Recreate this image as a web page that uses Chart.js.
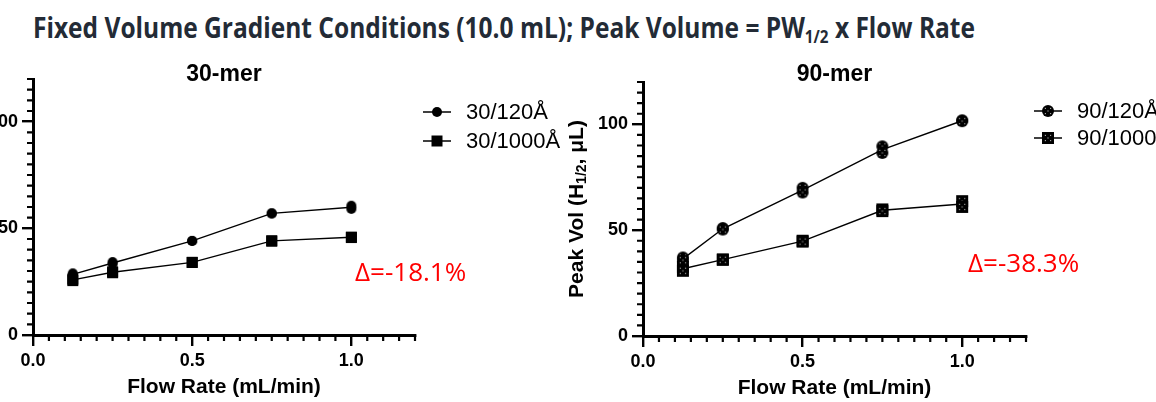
<!DOCTYPE html>
<html>
<head>
<meta charset="utf-8">
<script src="https://cdn.jsdelivr.net/npm/chart.js@4.4.1/dist/chart.umd.min.js"></script>
<style>
  html, body { margin: 0; padding: 0; background: #fff; }
  body { width: 1156px; height: 402px; overflow: hidden; position: relative; }
  #title {
    position: absolute; left: 33px; top: 13px; white-space: nowrap;
    font: 700 28px 'Open Sans', sans-serif; line-height: 1; color: #232b36;
    transform-origin: left top;
  }
  #title sub { font-size: 0.62em; line-height: 0; vertical-align: -0.28em; }
  .delta { position: absolute; font: 400 26px 'Open Sans', sans-serif; line-height: 1; color: #f00; white-space: nowrap; }
  canvas { position: absolute; }
</style>
</head>
<body>
<div id="title">Fixed Volume Gradient Conditions (10.0 mL); Peak Volume = PW<sub>1/2</sub> x Flow Rate</div>
<canvas id="chart30" width="617" height="345" style="left:-57px;top:60px"></canvas>
<canvas id="chart90" width="650" height="345" style="left:553px;top:60px"></canvas>
<div class="delta" id="delta30" style="left:355px;top:258px"></div>
<div class="delta" id="delta90" style="left:968px;top:249px"></div>

<script>
// flow rates (mL/min) shared by both panels
const flowRates = [0.125, 0.25, 0.5, 0.75, 1.0];

// 30-mer, two injections per flow rate
const mer30_120A = [28.9, 34.2, 44.1, 57.0, 60.6];
const mer30_120B = [28.0, 33.3, 44.1, 57.0, 59.1];
const mer30_1000A = [26.2, 29.6, 34.1, 44.2, 45.9];
const mer30_1000B = [25.5, 29.2, 34.0, 44.0, 45.7];

// 90-mer, two injections per flow rate
const mer90_120A = [37.1, 51.0, 70.0, 89.6, 101.9];
const mer90_120B = [35.8, 50.3, 67.8, 86.5, 101.5];
const mer90_1000A = [32.7, 36.2, 45.0, 59.8, 63.7];
const mer90_1000B = [30.8, 36.0, 44.6, 59.0, 61.0];

const names30 = ['30/120Å', '30/1000Å'];
const names90 = ['90/120Å', '90/1000Å'];
const panelTitles = ['30-mer', '90-mer'];
const deltaLabels = ['Δ=-18.1%', 'Δ=-38.3%'];
const xMajorStep = 0.5, xMinorStep = 0.05, xMax = 1.2;
const yMajorStep = 50, yMinorStep = 5, yMax = 120;

Chart.defaults.font.family = "'Liberation Sans', Arial, sans-serif";
Chart.defaults.color = '#000';

const isMajor = (v, step) => Math.abs(v / step - Math.round(v / step)) < 1e-6;

// marker images (solid, or with the little white "x" of dots)
function makeMarker(shape, size, dotted) {
  const c = document.createElement('canvas');
  c.width = c.height = size + 2;
  const g = c.getContext('2d');
  const m = (size + 2) / 2;
  g.fillStyle = '#000';
  if (shape === 'circle') {
    g.beginPath(); g.arc(m, m, size / 2, 0, Math.PI * 2); g.fill();
  } else {
    g.fillRect(1, 1, size, size);
  }
  if (dotted) {
    g.fillStyle = 'rgba(255,255,255,0.85)';
    const d = size * 0.22;
    [[-d, -d], [d, -d], [-d, d], [d, d], [0, 0]].forEach(([dx, dy]) => {
      g.fillRect(m + dx - 0.5, m + dy - 0.5, 1, 1);
    });
  }
  return c;
}

function seriesSets(label, repA, repB, marker) {
  const reps = [];
  flowRates.forEach((x, i) => { reps.push({ x, y: repA[i] }, { x, y: repB[i] }); });
  const mean = flowRates.map((x, i) => ({ x, y: (repA[i] + repB[i]) / 2 }));
  return [
    { label, data: reps, pointStyle: marker, pointRadius: 6, showLine: false, order: 0 },
    { label: label + ' mean', data: mean, showLine: true, borderColor: '#000', borderWidth: 1.4, pointRadius: 0, order: 1 }
  ];
}

// minor ticks, panel heading, y title with subscript, legend
const extras = {
  id: 'extras',
  afterDraw(chart, args, opts) {
    const { ctx, chartArea: a, scales: { x, y } } = chart;
    ctx.save();
    ctx.strokeStyle = '#000';
    ctx.lineWidth = 2.2;
    ctx.beginPath();
    x.ticks.forEach(t => {
      if (isMajor(t.value, xMajorStep)) return;
      const px = x.getPixelForValue(t.value);
      ctx.moveTo(px, a.bottom); ctx.lineTo(px, a.bottom + 6);
    });
    y.ticks.forEach(t => {
      if (isMajor(t.value, yMajorStep)) return;
      const py = y.getPixelForValue(t.value);
      ctx.moveTo(a.left, py); ctx.lineTo(a.left - 6, py);
    });
    ctx.stroke();

    // heading
    ctx.fillStyle = '#000';
    ctx.font = "bold 23px 'Liberation Sans', Arial, sans-serif";
    ctx.textAlign = 'center';
    ctx.textBaseline = 'middle';
    ctx.fillText(opts.heading, (a.left + a.right) / 2, a.top + opts.headingDy);

    // y title, rotated, with subscript
    const big = "bold 21px 'Liberation Sans', Arial, sans-serif";
    const small = "bold 14px 'Liberation Sans', Arial, sans-serif";
    const parts = [['Peak Vol (H', big, 0], ['1/2', small, 5], [', μL)', big, 0]];
    ctx.save();
    ctx.translate(a.left - 66, (a.top + a.bottom) / 2);
    ctx.rotate(-Math.PI / 2);
    ctx.textAlign = 'left';
    let total = 0;
    parts.forEach(p => { ctx.font = p[1]; total += ctx.measureText(p[0]).width; });
    let cx = -total / 2;
    parts.forEach(p => {
      ctx.font = p[1];
      ctx.fillText(p[0], cx, p[2]);
      cx += ctx.measureText(p[0]).width;
    });
    ctx.restore();

    // legend
    ctx.font = "22px 'Liberation Sans', Arial, sans-serif";
    ctx.textAlign = 'left';
    ctx.lineWidth = 1.5;
    opts.items.forEach((it, i) => {
      const ly = a.top + opts.rows[i];
      const x0 = a.right + 8, x1 = a.right + 36;
      ctx.beginPath(); ctx.moveTo(x0, ly); ctx.lineTo(x1, ly); ctx.stroke();
      const m = it.marker;
      ctx.drawImage(m, (x0 + x1) / 2 - m.width / 2, ly - m.height / 2);
      ctx.fillText(it.label, a.right + 51, ly + 1);
    });
    ctx.restore();
  }
};

function makeChart(id, datasets, padding, heading, headingDy, legendItems, rows) {
  return new Chart(document.getElementById(id), {
    type: 'scatter',
    data: { datasets },
    options: {
      responsive: false,
      animation: false,
      events: [],
      layout: { padding },
      plugins: {
        legend: { display: false },
        tooltip: { enabled: false },
        extras: { heading, headingDy, items: legendItems, rows }
      },
      scales: {
        x: {
          type: 'linear', min: 0, max: xMax,
          afterFit: s => { s.height = 65; },
          border: { color: '#000', width: 3 },
          grid: {
            drawOnChartArea: false, tickLength: 11, lineWidth: 2.4,
            color: c => isMajor(c.tick.value, xMajorStep) ? '#000' : 'rgba(0,0,0,0)'
          },
          ticks: {
            stepSize: xMinorStep, autoSkip: false, maxRotation: 0, padding: 4,
            font: { size: 18, weight: 'bold' },
            callback: v => isMajor(v, xMajorStep) ? v.toFixed(1) : ''
          },
          title: { display: true, text: 'Flow Rate (mL/min)', font: { size: 21, weight: 'bold' }, padding: 0 }
        },
        y: {
          type: 'linear', min: 0, max: yMax,
          afterFit: s => { s.width = 90; },
          border: { color: '#000', width: 3 },
          grid: {
            drawOnChartArea: false, tickLength: 11, lineWidth: 2.4,
            color: c => isMajor(c.tick.value, yMajorStep) ? '#000' : 'rgba(0,0,0,0)'
          },
          ticks: {
            stepSize: yMinorStep, autoSkip: false, padding: 4,
            font: { size: 18, weight: 'bold' },
            callback: v => isMajor(v, yMajorStep) ? String(v) : ''
          }
        }
      }
    },
    plugins: [extras]
  });
}

const dot30 = makeMarker('circle', 10, false);
const sq30 = makeMarker('square', 11, false);
const dot90 = makeMarker('circle', 12, true);
const sq90 = makeMarker('square', 12, true);

makeChart('chart30',
  [...seriesSets(names30[0], mer30_120A, mer30_120B, dot30),
   ...seriesSets(names30[1], mer30_1000A, mer30_1000B, sq30)],
  { top: 19, right: 145, bottom: 5, left: 0 },
  panelTitles[0], -4,
  [{ label: names30[0], marker: dot30 }, { label: names30[1], marker: sq30 }],
  [33, 62]);

makeChart('chart90',
  [...seriesSets(names90[0], mer90_120A, mer90_120B, dot90),
   ...seriesSets(names90[1], mer90_1000A, mer90_1000B, sq90)],
  { top: 22, right: 177, bottom: 4, left: 0 },
  panelTitles[1], -7,
  [{ label: names90[0], marker: dot90 }, { label: names90[1], marker: sq90 }],
  [29, 56]);

document.getElementById('delta30').textContent = deltaLabels[0];
document.getElementById('delta90').textContent = deltaLabels[1];

// squeeze the heading to the width of the original line
const title = document.getElementById('title');
const w = title.getBoundingClientRect().width;
title.style.transform = 'scaleX(' + (942 / w) + ')';
</script>
</body>
</html>
